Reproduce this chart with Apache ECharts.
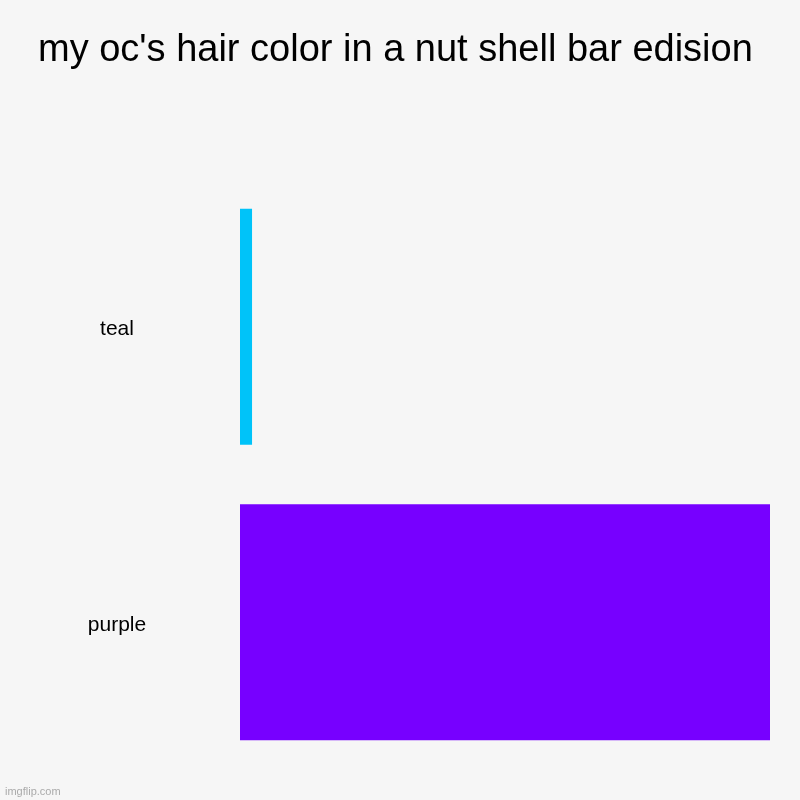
<!DOCTYPE html>
<html>
<head>
<meta charset="utf-8">
<script src="https://cdn.jsdelivr.net/npm/echarts@6/dist/echarts.min.js"></script>
<style>
  html, body { margin: 0; padding: 0; background: #f6f6f6; }
  #chart { width: 800px; height: 800px; }
</style>
</head>
<body>
<div id="chart"></div>
<script>
var titleText = "my oc's hair color in a nut shell bar edision";
var categories = ['teal', 'purple'];
var values = [1, 44];
var barColors = ['#00c3f9', '#7700ff'];

var myChart = echarts.init(document.getElementById('chart'));
var option = {
    backgroundColor: '#f6f6f6',
    title: {
        text: titleText,
        left: 33,
        top: 27,
        textStyle: { fontFamily: 'Liberation Sans', fontSize: 38, fontWeight: 'normal', color: '#000' }
    },
    graphic: [{
        type: 'text',
        left: 5,
        top: 786,
        style: { text: 'imgflip.com', fill: '#aaa', font: '11px "Liberation Sans"' }
    }],
    grid: { left: 240, right: 30, top: 179, bottom: 30 },
    xAxis: {
        type: 'value',
        min: 0,
        max: 44,
        show: false
    },
    yAxis: {
        type: 'category',
        inverse: true,
        data: categories,
        axisLine: { show: false },
        axisTick: { show: false },
        axisLabel: {
            align: 'center',
            verticalAlign: 'top',
            margin: 123,
            padding: [-8, 0, 0, 0],
            fontFamily: 'Liberation Sans',
            fontSize: 21,
            color: '#000'
        }
    },
    series: [{
        type: 'bar',
        barWidth: 236,
        data: values.map(function (v, i) {
            return { value: v, itemStyle: { color: barColors[i] } };
        })
    }]
};
myChart.setOption(option);
</script>
</body>
</html>
